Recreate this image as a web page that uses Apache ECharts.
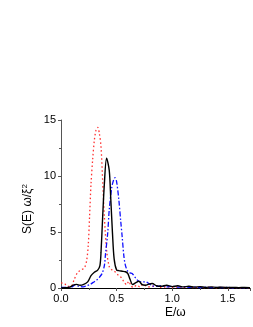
<!DOCTYPE html>
<html>
<head>
<meta charset="utf-8">
<script src="https://cdn.jsdelivr.net/npm/echarts@6/dist/echarts.min.js"></script>
<style>
html,body{margin:0;padding:0;background:#fff;}
#chart{width:253px;height:327px;}
</style>
</head>
<body>
<div id="chart"></div>
<script>
// Data
const xTicks = [0, 0.5, 1.0, 1.5];
const yTicks = [0, 5, 10, 15];

const blackE = [0, 0.04, 0.08, 0.11, 0.14, 0.17, 0.2, 0.24, 0.27, 0.3, 0.33, 0.35, 0.36, 0.375, 0.39, 0.41, 0.434, 0.448, 0.463, 0.478, 0.5, 0.52, 0.55, 0.58, 0.6, 0.62, 0.645, 0.67, 0.7, 0.73, 0.76, 0.79, 0.82, 0.86, 0.9, 0.95, 1.0, 1.05, 1.1, 1.15, 1.2, 1.25, 1.3, 1.35, 1.4, 1.45, 1.5, 1.55, 1.6, 1.65, 1.7];
const blackS = [0.0, 0.02, 0.08, 0.25, 0.32, 0.25, 0.3, 0.55, 1.1, 1.4, 1.6, 2.0, 3.2, 6.4, 9.3, 11.6, 10.5, 7.9, 4.9, 2.6, 1.6, 1.55, 1.5, 1.45, 1.3, 0.8, 0.3, 0.45, 0.6, 0.3, 0.25, 0.35, 0.4, 0.2, 0.15, 0.25, 0.12, 0.2, 0.1, 0.15, 0.08, 0.12, 0.05, 0.1, 0.05, 0.08, 0.04, 0.06, 0.03, 0.05, 0.03];

const redE = [0, 0.03, 0.06, 0.09, 0.12, 0.15, 0.18, 0.21, 0.23, 0.245, 0.257, 0.27, 0.285, 0.3, 0.315, 0.33, 0.345, 0.36, 0.375, 0.39, 0.41, 0.434, 0.46, 0.48, 0.5, 0.52, 0.545, 0.566, 0.59, 0.61, 0.63, 0.65, 0.68, 0.71, 0.74, 0.77, 0.8, 0.85, 0.9, 0.95, 1.0, 1.05, 1.1, 1.15, 1.2, 1.25, 1.3, 1.35, 1.4, 1.45, 1.5, 1.55, 1.6, 1.65, 1.7];
const redS = [0.45, 0.4, 0.15, 0.15, 0.8, 1.4, 1.6, 1.8, 2.4, 3.8, 6.4, 9.3, 11.5, 13.2, 14.1, 14.35, 13.8, 12.6, 9.5, 6.4, 3.4, 1.9, 1.6, 1.5, 1.3, 1.1, 0.9, 0.55, 0.3, 0.6, 0.2, 0.05, 0.25, 0.1, 0.35, 0.15, 0.1, 0.2, 0.05, 0.12, 0.05, 0.1, 0.04, 0.08, 0.03, 0.07, 0.03, 0.06, 0.02, 0.05, 0.02, 0.04, 0.02, 0.03, 0.02];

const blueE = [0, 0.05, 0.1, 0.13, 0.16, 0.2, 0.23, 0.26, 0.29, 0.32, 0.345, 0.37, 0.39, 0.4, 0.42, 0.434, 0.457, 0.475, 0.487, 0.5, 0.52, 0.537, 0.55, 0.566, 0.58, 0.6, 0.62, 0.64, 0.67, 0.7, 0.73, 0.76, 0.79, 0.82, 0.86, 0.9, 0.95, 1.0, 1.05, 1.1, 1.15, 1.2, 1.25, 1.3, 1.35, 1.4, 1.45, 1.5, 1.55, 1.6, 1.65, 1.7];
const blueS = [0.05, 0.05, 0.1, 0.3, 0.15, 0.1, 0.2, 0.3, 0.5, 0.7, 0.95, 1.3, 2.0, 3.0, 4.9, 7.0, 9.0, 9.7, 9.85, 9.5, 7.9, 6.0, 4.6, 2.8, 2.0, 1.5, 1.35, 1.3, 0.9, 0.6, 0.55, 0.55, 0.4, 0.2, 0.15, 0.2, 0.1, 0.15, 0.08, 0.12, 0.05, 0.1, 0.04, 0.08, 0.03, 0.06, 0.03, 0.05, 0.02, 0.04, 0.02, 0.03];

function pairs(xs, ys){ return xs.map((x,i)=>[x, ys[i]]); }

const chart = echarts.init(document.getElementById('chart'), null, {renderer:'canvas'});
const FONT = 'Liberation Sans, Arial, sans-serif';
chart.setOption({
  animation: false,
  backgroundColor: '#fff',
  grid: {left: 61, right: 0, top: 120, bottom: 39, containLabel: false},
  xAxis: [{
    type: 'value', min: 0, max: 1.7, interval: 0.5,
    axisLine: {show: true, onZero: false, lineStyle: {color: '#555', width: 1}},
    axisTick: {show: true, inside: false, length: 3, lineStyle: {color: '#555'}},
    minorTick: {show: true, splitNumber: 2, length: 2, lineStyle: {color: '#555'}},
    splitLine: {show: false},
    axisLabel: {color: '#000', fontSize: 11, fontFamily: FONT, margin: 5,
      formatter: v => xTicks.some(t => Math.abs(t - v) < 1e-9) ? v.toFixed(1) : ''}
  }, {
    type: 'value', min: 0, max: 1.7, position: 'top',
    axisLine: {show: true, lineStyle: {color: '#000', width: 1}},
    axisTick: {show: false}, axisLabel: {show: false}, splitLine: {show: false}
  }],
  yAxis: {
    type: 'value', min: 0, max: 15, interval: 5,
    axisLine: {show: true, onZero: false, lineStyle: {color: '#555', width: 1}},
    axisTick: {show: true, inside: false, length: 3, lineStyle: {color: '#555'}},
    minorTick: {show: true, splitNumber: 2, length: 2, lineStyle: {color: '#555'}},
    splitLine: {show: false},
    axisLabel: {color: '#000', fontSize: 11, fontFamily: FONT, margin: 5,
      formatter: v => yTicks.includes(v) ? String(v) : ''}
  },
  graphic: [
    {type: 'text', left: 165, top: 307, style: {text: 'E/ω', fill: '#000', font: '12px ' + FONT}},
    {type: 'text', x: 28, y: 209, rotation: Math.PI/2, style: {
      text: 'S(E) ω/ξ{s|2}', fill: '#000', font: '12px ' + FONT, align: 'center', verticalAlign: 'middle',
      rich: {s: {fontSize: 8, fontFamily: FONT, verticalAlign: 'top', padding: [0,0,6,0]}}
    }}
  ],
  series: [
    {type: 'line', name: 'red', data: pairs(redE, redS), smooth: 0.3, showSymbol: false, clip: true,
      lineStyle: {color: '#ff3030', width: 1.3, type: [1.5, 2.5]}},
    {type: 'line', name: 'blue', data: pairs(blueE, blueS), smooth: 0.3, showSymbol: false, clip: true,
      lineStyle: {color: '#1010ff', width: 1.3, type: [5, 2, 1.5, 2]}},
    {type: 'line', name: 'black', data: pairs(blackE, blackS), smooth: 0.3, showSymbol: false, clip: true,
      lineStyle: {color: '#000', width: 1.4}}
  ]
});
</script>
</body>
</html>
